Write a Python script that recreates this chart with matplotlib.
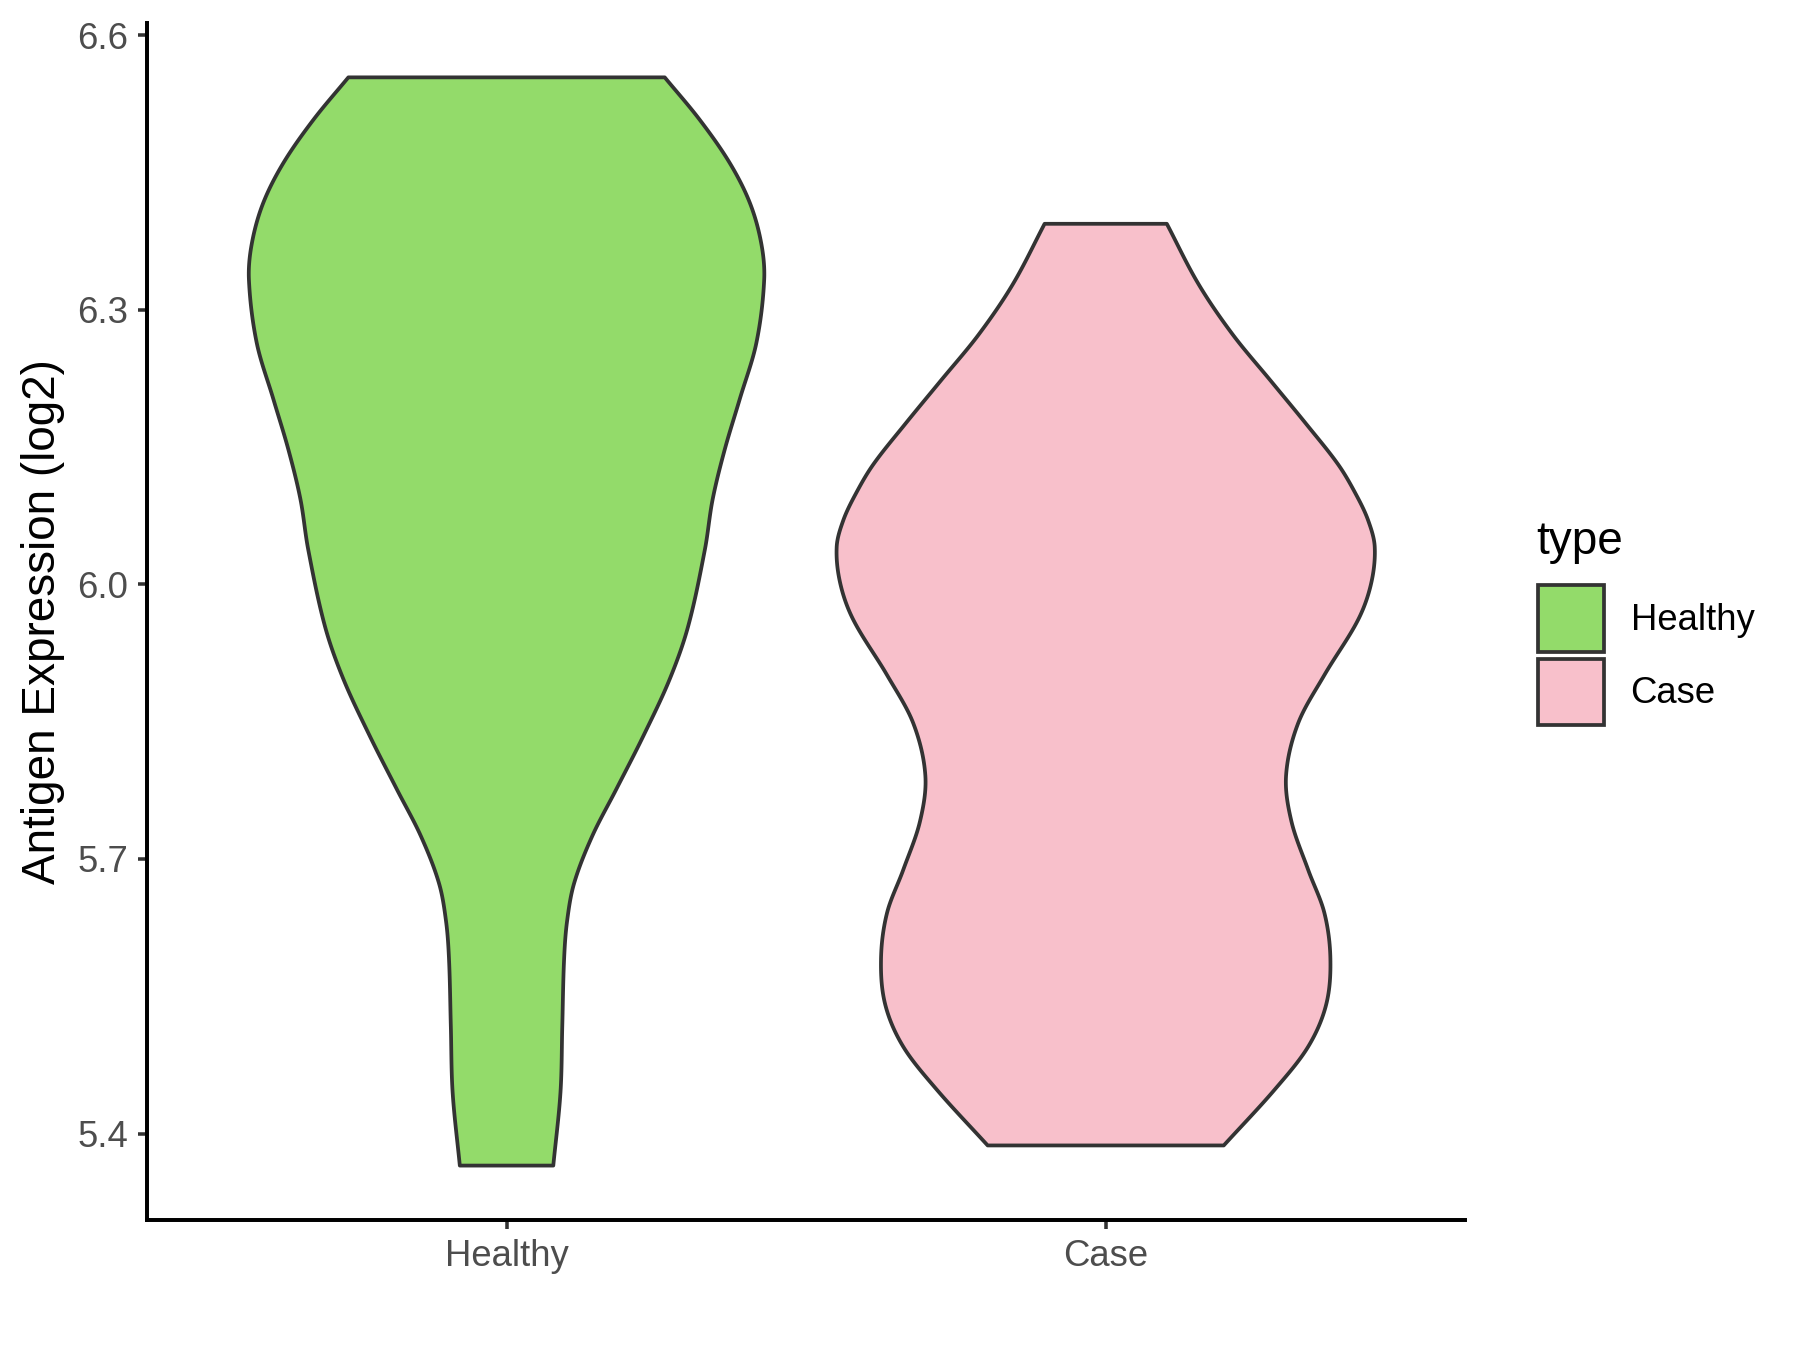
import numpy as np
import matplotlib.pyplot as plt
from matplotlib.patches import Patch

plt.rcParams['font.family'] = ['Liberation Sans', 'DejaVu Sans']

groups = ["Healthy", "Case"]
colors = ["#93DB6A", "#F8C0CB"]

# violin outlines: expression level and half width
healthy_y = [6.554, 6.508, 6.461, 6.417, 6.373, 6.333, 6.264, 6.202, 6.147, 6.093,
             6.038, 5.954, 5.896, 5.834, 5.776, 5.725, 5.674, 5.632, 5.590, 5.517,
             5.445, 5.365]
healthy_hw = [0.264, 0.322, 0.372, 0.406, 0.425, 0.430, 0.417, 0.389, 0.364, 0.344,
              0.331, 0.303, 0.272, 0.228, 0.183, 0.143, 0.113, 0.101, 0.096, 0.093,
              0.090, 0.078]

case_y = [6.394, 6.328, 6.273, 6.222, 6.175, 6.131, 6.098, 6.070, 6.041, 6.001, 5.961,
          5.901, 5.848, 5.791, 5.741, 5.688, 5.641, 5.591, 5.541, 5.495, 5.448, 5.387]
case_hw = [0.102, 0.155, 0.212, 0.276, 0.335, 0.388, 0.418, 0.438, 0.449, 0.443, 0.421,
           0.365, 0.321, 0.301, 0.310, 0.338, 0.365, 0.375, 0.368, 0.338, 0.282, 0.197]

yticks = [5.4, 5.7, 6.0, 6.3, 6.6]


def hermite(y, w, n=16):
    # smooth outline through the read points, half width as a function of y
    y = np.asarray(y, float)
    w = np.asarray(w, float)
    m = np.empty_like(w)
    m[1:-1] = (w[2:] - w[:-2]) / (y[2:] - y[:-2])
    m[0] = (w[1] - w[0]) / (y[1] - y[0])
    m[-1] = (w[-1] - w[-2]) / (y[-1] - y[-2])
    ys, ws = [], []
    for i in range(len(y) - 1):
        h = y[i + 1] - y[i]
        t = np.linspace(0, 1, n, endpoint=False)
        h00 = 2 * t ** 3 - 3 * t ** 2 + 1
        h10 = t ** 3 - 2 * t ** 2 + t
        h01 = -2 * t ** 3 + 3 * t ** 2
        h11 = t ** 3 - t ** 2
        ys.append(y[i] + t * h)
        ws.append(h00 * w[i] + h10 * h * m[i] + h01 * w[i + 1] + h11 * h * m[i + 1])
    ys.append([y[-1]])
    ws.append([w[-1]])
    return np.concatenate(ys), np.concatenate(ws)


fig = plt.figure(figsize=(12, 9), dpi=150)
ax = fig.add_axes([0.0817, 0.0963, 0.7323, 0.8867])

profiles = [(healthy_y, healthy_hw), (case_y, case_hw)]
for i, (yy, ww) in enumerate(profiles):
    pos = i + 1
    ys, ws = hermite(yy, ww)
    xs = np.concatenate([pos - ws, (pos + ws)[::-1]])
    yv = np.concatenate([ys, ys[::-1]])
    ax.fill(xs, yv, facecolor=colors[i], edgecolor="#333333", linewidth=1.8,
            joinstyle="round")

ymin = min(min(healthy_y), min(case_y))
ymax = max(max(healthy_y), max(case_y))
pad = (ymax - ymin) * 0.05
ax.set_ylim(ymin - pad, ymax + pad)
ax.set_xlim(0.4, 2.6)

ax.set_xticks([1, 2])
ax.set_xticklabels(groups)
ax.set_yticks(yticks)
ax.set_yticklabels([f"{v:.1f}" for v in yticks])
ax.tick_params(axis="both", labelsize=17.5, labelcolor="#4D4D4D", color="#333333",
               length=4.5, width=1.7, pad=4.5)
for s in ["top", "right"]:
    ax.spines[s].set_visible(False)
for s in ["left", "bottom"]:
    ax.spines[s].set_linewidth(1.9)
    ax.spines[s].set_color("black")

ax.set_ylabel("Antigen Expression (log2)", fontsize=22, labelpad=6)

# legend title placed on its own, keys below it
fig.text(0.8533, 0.5985, "type", fontsize=22, ha="left", va="center")
handles = [Patch(facecolor=c, edgecolor="#333333", linewidth=1.8) for c in colors]
leg = fig.legend(handles, groups, loc="upper left",
                 bbox_to_anchor=(0.8546, 0.5663), frameon=False, fontsize=17.5,
                 handlelength=1.81, handleheight=2.42, labelspacing=0.2,
                 handletextpad=0.72, borderaxespad=0, borderpad=0)

fig.savefig("out.png", dpi=150)
